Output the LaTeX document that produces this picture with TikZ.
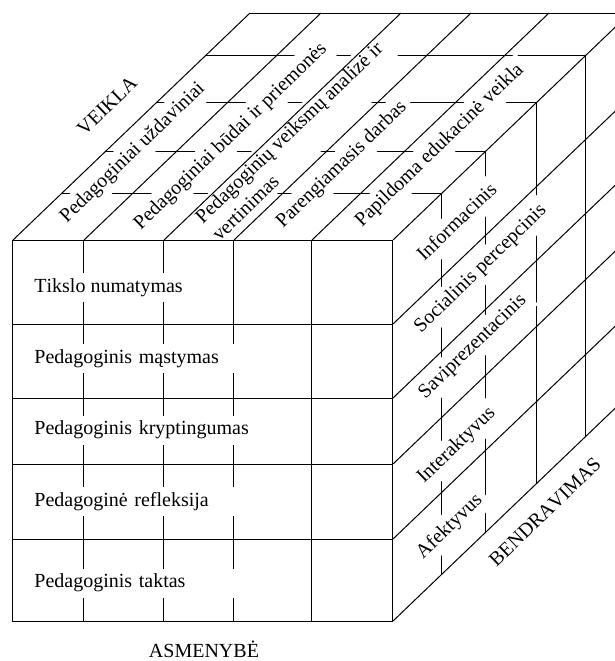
\documentclass[tikz,border=0pt]{standalone}
\usepackage{fontspec}
\setmainfont{Liberation Serif}[Kerning=Off]
\usetikzlibrary{calc}

\begin{document}
\begin{tikzpicture}[x=0.5pt, y=-0.5pt, font=\fontsize{10}{12}\selectfont,
    edge/.style={black, line width=0.5pt},
    lbl/.style={fill=white, inner xsep=3pt, inner ysep=2.5pt, text height=7pt, text depth=2.5pt},
    toplbl/.style={lbl, rotate=44},
    rowlbl/.style={lbl, anchor=west},
    widerow/.style={text width=110pt, align=left},
    axislbl/.style={inner sep=0pt}]

    \useasboundingbox (0,0) rectangle (615,661);
    \clip (0,0) rectangle (615,661);

    % 1. INNER GRID (cut by the white label boxes)
    % depth levels on the top and on the right side
    \foreach \t in {0.205, 0.39, 0.606, 0.814} {
        \draw[edge] ($(13,240)+\t*(237,-227)$) -- ($(393,240)+\t*(237,-227)$);
        \draw[edge] ($(393,240)+\t*(237,-227)$) -- ($(393,621)+\t*(237,-227)$);
    }
    % columns on the front
    \foreach \x in {84, 164, 234, 312}
        \draw[edge] (\x,240) -- (\x,621);

    % 2. LABELS OF THE FRONT (ASMENYBE)
    \node[rowlbl] (tikslo) at (28,287.5) {Tikslo numatymas};
    \node[rowlbl, widerow] (mastymas) at (28,358.5) {Pedagoginis mąstymas};
    \node[rowlbl, widerow] (kryptingumas) at (28,430) {Pedagoginis kryptingumas};
    \node[rowlbl, widerow] (refleksija) at (28,501.5) {Pedagoginė refleksija};
    \node[rowlbl, widerow] (taktas) at (28,583) {Pedagoginis taktas};

    % 3. LABELS OF THE TOP (VEIKLA)
    \node[toplbl] (uzdaviniai) at (133,153) {Pedagoginiai uždaviniai};
    \node[toplbl] (budai) at (231,137) {Pedagoginiai būdai ir priemonės};
    \node[toplbl, text height={}, text depth={}, align=left] (analize) at (297,141)
        {Pedagoginių veiksmų analizė ir\\vertinimas};
    \node[toplbl] (parengiamasis) at (342,165) {Parengiamasis darbas};
    \node[toplbl] (papildoma) at (440,146) {Papildoma edukacinė veikla};

    % 4. LABELS OF THE SIDE (BENDRAVIMAS)
    \node[toplbl] (informacinis) at (458,223) {Informacinis};
    \node[toplbl] (socialinis) at (481,269) {Socialinis percepcinis};
    \node[toplbl] (saviprez) at (473,347) {Saviprezentacinis};
    \node[toplbl] (interakt) at (457,446) {Interaktyvus};
    \node[toplbl] (afekt) at (450,527) {Afektyvus};

    % 5. OUTER EDGES AND SLANTED LINES
    \foreach \x in {13, 84, 164, 234, 312, 393}
        \draw[edge] (\x,240) -- ++(237,-227);
    \foreach \y in {324, 398, 464, 539, 621}
        \draw[edge] (393,\y) -- ++(237,-227);
    \foreach \y in {324, 398, 464, 539}
        \draw[edge] (13,\y) -- (393,\y);
    \draw[edge] (13,240) rectangle (393,621);
    \draw[edge] (250,13) -- (630,13) -- (630,394);

    % 6. AXIS NAMES
    \node[axislbl, rotate=44] (veikla) at (107,106) {VEIKLA};
    \node[axislbl, rotate=44] (bendravimas) at (545,512) {BENDRAVIMAS};
    \node[axislbl] (asmenybe) at (204,649) {ASMENYBĖ};

\end{tikzpicture}
\end{document}
